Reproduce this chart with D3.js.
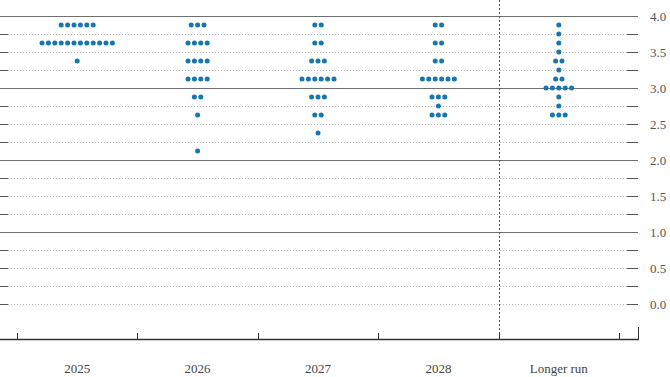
<!DOCTYPE html>
<html>
<head>
<meta charset="utf-8">
<script src="https://cdn.jsdelivr.net/npm/d3@7"></script>
<style>
  body { margin: 0; background: #fff; }
  svg { display: block; }
</style>
</head>
<body>
<svg width="670" height="377"></svg>
<script>
// categories along the bottom
var categories = ["2025", "2026", "2027", "2028", "Longer run"];

// rate levels (midpoints) and how many participants put a dot there
var levels2025 = [3.875, 3.625, 3.375];
var counts2025 = [6, 12, 1];

var levels2026 = [3.875, 3.625, 3.375, 3.125, 2.875, 2.625, 2.125];
var counts2026 = [3, 4, 4, 4, 2, 1, 1];

var levels2027 = [3.875, 3.625, 3.375, 3.125, 2.875, 2.625, 2.375];
var counts2027 = [2, 2, 3, 6, 3, 2, 1];

var levels2028 = [3.875, 3.625, 3.375, 3.125, 2.875, 2.75, 2.625];
var counts2028 = [2, 2, 2, 6, 3, 1, 3];

var levelsLR = [3.875, 3.75, 3.625, 3.5, 3.375, 3.25, 3.125, 3.0, 2.875, 2.75, 2.625];
var countsLR = [1, 1, 1, 1, 2, 1, 2, 5, 1, 1, 3];

// y tick labels on the right
var yTickLabels = [4.0, 3.5, 3.0, 2.5, 2.0, 1.5, 1.0, 0.5, 0.0];

var svg = d3.select("svg");

var x = d3.scaleBand().domain(categories).range([17, 619]);
var y = d3.scaleLinear().domain([0, 4]).range([304, 16]);

var dotColor = "#1677b0";
var spacing = 6.4;

// solid lines at whole percents (not at zero)
function isSolid(d) { return d > 0 && d % 1 === 0; }

// gridlines every 0.25
var gridVals = d3.range(0, 4.001, 0.25);
var grid = svg.append("g").attr("class", "grid");

grid.selectAll("line.g")
  .data(gridVals)
  .enter()
  .append("line")
  .attr("x1", function(d) { return isSolid(d) ? 0 : 8; })
  .attr("x2", function(d) { return isSolid(d) ? 638 : 627; })
  .attr("y1", function(d) { return Math.round(y(d)) + 0.5; })
  .attr("y2", function(d) { return Math.round(y(d)) + 0.5; })
  .attr("stroke", function(d) { return isSolid(d) ? "#707070" : "#b8b8b8"; })
  .attr("stroke-width", 1)
  .attr("stroke-dasharray", function(d) { return isSolid(d) ? null : "1,2"; });

// short ticks left and right for the dotted lines
var dottedVals = gridVals.filter(function(d) { return !isSolid(d); });

grid.selectAll("line.lt")
  .data(dottedVals)
  .enter()
  .append("line")
  .attr("x1", 0).attr("x2", 8)
  .attr("y1", function(d) { return Math.round(y(d)) + 0.5; })
  .attr("y2", function(d) { return Math.round(y(d)) + 0.5; })
  .attr("stroke", "#555");

grid.selectAll("line.rt")
  .data(dottedVals)
  .enter()
  .append("line")
  .attr("x1", 627).attr("x2", 638)
  .attr("y1", function(d) { return Math.round(y(d)) + 0.5; })
  .attr("y2", function(d) { return Math.round(y(d)) + 0.5; })
  .attr("stroke", "#555");

// y labels
svg.append("g")
  .selectAll("text")
  .data(yTickLabels)
  .enter()
  .append("text")
  .attr("x", 650)
  .attr("y", function(d) { return y(d); })
  .attr("dy", "0.35em")
  .attr("font-family", "Liberation Serif, serif")
  .attr("font-size", 13)
  .attr("fill", "#555")
  .text(function(d) { return d.toFixed(1); });

// dashed separator before longer run
var sepX = Math.round(x("Longer run")) + 0.5;
svg.append("line")
  .attr("x1", sepX).attr("x2", sepX)
  .attr("y1", 0).attr("y2", 339)
  .attr("stroke", "#555")
  .attr("stroke-dasharray", "2,2");

// bottom axis
var axis = svg.append("g");
axis.append("line")
  .attr("x1", 0).attr("x2", 639)
  .attr("y1", 339.5).attr("y2", 339.5)
  .attr("stroke", "#333")
  .attr("stroke-width", 1.3);

var tickXs = categories.map(function(c) { return x(c); }).concat([x.range()[1]]);
axis.selectAll("line.tick")
  .data(tickXs)
  .enter()
  .append("line")
  .attr("x1", function(d) { return Math.round(d) + 0.5; })
  .attr("x2", function(d) { return Math.round(d) + 0.5; })
  .attr("y1", 333).attr("y2", 339)
  .attr("stroke", "#333");

axis.append("line")
  .attr("x1", 638.5).attr("x2", 638.5)
  .attr("y1", 327).attr("y2", 340)
  .attr("stroke", "#333");

axis.selectAll("text")
  .data(categories)
  .enter()
  .append("text")
  .attr("x", function(d) { return x(d) + x.bandwidth() / 2; })
  .attr("y", 373)
  .attr("text-anchor", "middle")
  .attr("font-family", "Liberation Serif, serif")
  .attr("font-size", 13)
  .attr("fill", "#444")
  .text(function(d) { return d; });

// build dot list
var series = [
  {cat: "2025", levels: levels2025, counts: counts2025},
  {cat: "2026", levels: levels2026, counts: counts2026},
  {cat: "2027", levels: levels2027, counts: counts2027},
  {cat: "2028", levels: levels2028, counts: counts2028},
  {cat: "Longer run", levels: levelsLR, counts: countsLR}
];

var dots = [];
series.forEach(function(s) {
  s.levels.forEach(function(lv, j) {
    var n = s.counts[j];
    for (var i = 0; i < n; i++) {
      dots.push({cat: s.cat, rate: lv, off: i - (n - 1) / 2});
    }
  });
});

svg.append("g")
  .attr("class", "dots")
  .selectAll("circle")
  .data(dots)
  .enter()
  .append("circle")
  .attr("cx", function(d) { return x(d.cat) + x.bandwidth() / 2 + d.off * spacing; })
  .attr("cy", function(d) { return y(d.rate); })
  .attr("r", 2.5)
  .attr("fill", dotColor);
</script>
</body>
</html>
